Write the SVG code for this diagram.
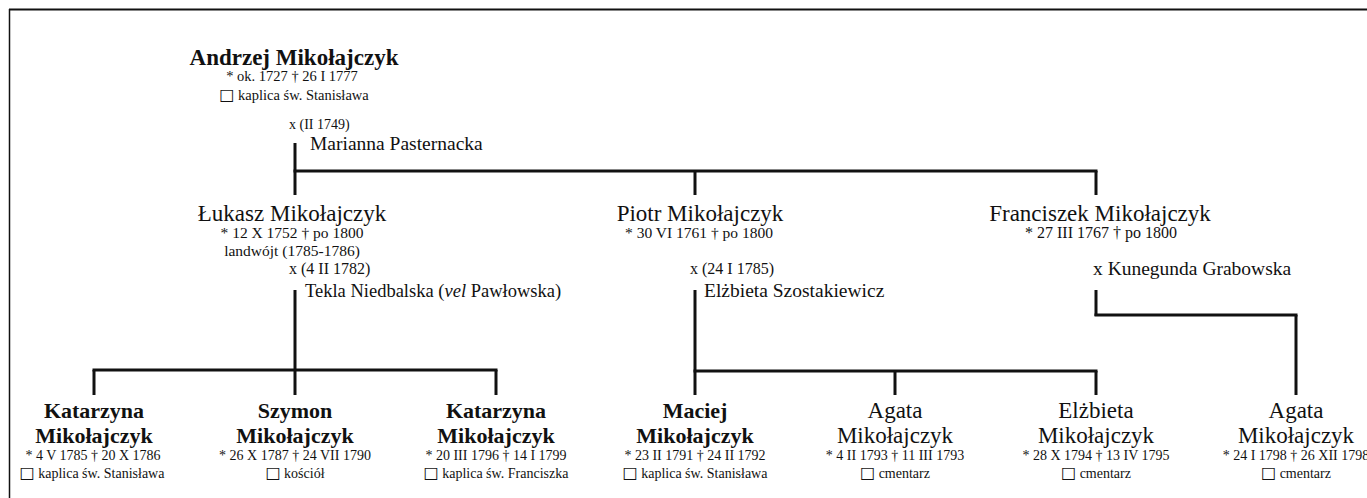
<svg xmlns="http://www.w3.org/2000/svg" width="1367" height="498" viewBox="0 0 1367 498">
<style>
text{font-family:"Liberation Serif","Times New Roman",serif;fill:#111}
.b{font-weight:bold;font-size:22px;text-anchor:middle}
.bt{font-weight:bold;font-size:23px;text-anchor:middle}
.n{font-size:23px;text-anchor:middle}
.s{font-size:14px;text-anchor:middle}
.s2{font-size:15.5px;text-anchor:middle}
.m{font-size:16px}
.sp{font-size:19.5px}
.bx{font-family:"DejaVu Sans",sans-serif;font-size:16px}
.c line{stroke:#111;stroke-width:3}
</style>
<rect x="0" y="0" width="1367" height="498" fill="#fff"/>
<g id="frame">
<line x1="9" y1="9.5" x2="1367" y2="9.5" stroke="#111" stroke-width="2"/>
<line x1="9.5" y1="9" x2="9.5" y2="498" stroke="#111" stroke-width="1.5"/>
</g>
<g class="c" id="connectors">
<line x1="295" y1="143" x2="295" y2="195"/>
<line x1="293.5" y1="171" x2="1097.5" y2="171"/>
<line x1="695" y1="171" x2="695" y2="195"/>
<line x1="1096" y1="171" x2="1096" y2="195"/>
<line x1="295" y1="290" x2="295" y2="395"/>
<line x1="92.5" y1="370" x2="497.5" y2="370"/>
<line x1="94" y1="370" x2="94" y2="395"/>
<line x1="496" y1="370" x2="496" y2="395"/>
<line x1="695" y1="290" x2="695" y2="395"/>
<line x1="693.5" y1="371" x2="1097.5" y2="371"/>
<line x1="895" y1="371" x2="895" y2="395"/>
<line x1="1096" y1="371" x2="1096" y2="395"/>
<line x1="1096" y1="290" x2="1096" y2="316"/>
<line x1="1094.5" y1="315" x2="1297.5" y2="315"/>
<line x1="1296" y1="315" x2="1296" y2="395"/>
</g>
<g id="andrzej">
<text class="bt" x="294" y="65">Andrzej Mikołajczyk</text>
<text class="s" x="292" y="81" style="font-size:14.5px">* ok. 1727 † 26 I 1777</text>
<text class="s" x="294" y="100" style="font-size:14.5px"><tspan class="bx">□</tspan> kaplica św. Stanisława</text>
<text class="m" x="289" y="129" style="font-size:14px">x (II 1749)</text>
<text class="sp" x="310" y="150">Marianna Pasternacka</text>
</g>
<g id="lukasz">
<text class="n" x="292" y="221">Łukasz Mikołajczyk</text>
<text class="s2" x="292" y="238">* 12 X 1752 † po 1800</text>
<text class="s2" x="292" y="256">landwójt (1785-1786)</text>
<text class="m" x="289" y="274">x (4 II 1782)</text>
<text class="sp" x="305" y="297" style="font-size:18.5px">Tekla Niedbalska (<tspan font-style="italic">vel</tspan> Pawłowska)</text>
</g>
<g id="piotr">
<text class="n" x="700" y="221">Piotr Mikołajczyk</text>
<text class="s2" x="699" y="238">* 30 VI 1761 † po 1800</text>
<text class="m" x="690" y="274">x (24 I 1785)</text>
<text class="sp" x="704" y="297">Elżbieta Szostakiewicz</text>
</g>
<g id="franciszek">
<text class="n" x="1100" y="221">Franciszek Mikołajczyk</text>
<text class="s2" x="1101" y="238" style="font-size:16px">*  27 III 1767 † po 1800</text>
<text class="sp" x="1093" y="275">x Kunegunda Grabowska</text>
</g>
<g id="katarzyna1">
<text class="b" x="94" y="418">Katarzyna</text>
<text class="b" x="94" y="443">Mikołajczyk</text>
<text class="s" x="93" y="460">* 4 V 1785 † 20 X 1786</text>
<text class="s" x="92" y="478"><tspan class="bx">□</tspan> kaplica św. Stanisława</text>
</g>
<g id="szymon">
<text class="b" x="295" y="418">Szymon</text>
<text class="b" x="295" y="443">Mikołajczyk</text>
<text class="s" x="295" y="460">* 26 X 1787 † 24 VII 1790</text>
<text class="s" x="295" y="478"><tspan class="bx">□</tspan> kościół</text>
</g>
<g id="katarzyna2">
<text class="b" x="496" y="418">Katarzyna</text>
<text class="b" x="496" y="443">Mikołajczyk</text>
<text class="s" x="496" y="460">* 20 III 1796 † 14 I 1799</text>
<text class="s" x="496" y="478"><tspan class="bx">□</tspan> kaplica św. Franciszka</text>
</g>
<g id="maciej">
<text class="b" x="695" y="418">Maciej</text>
<text class="b" x="695" y="443">Mikołajczyk</text>
<text class="s" x="695" y="460">* 23 II 1791 † 24 II 1792</text>
<text class="s" x="695" y="478"><tspan class="bx">□</tspan> kaplica św. Stanisława</text>
</g>
<g id="agata1">
<text class="n" x="895" y="418">Agata</text>
<text class="n" x="895" y="443">Mikołajczyk</text>
<text class="s" x="895" y="460">* 4 II 1793 † 11 III 1793</text>
<text class="s" x="895" y="478"><tspan class="bx">□</tspan> cmentarz</text>
</g>
<g id="elzbieta">
<text class="n" x="1096" y="418">Elżbieta</text>
<text class="n" x="1096" y="443">Mikołajczyk</text>
<text class="s" x="1096" y="460">* 28 X 1794 † 13 IV 1795</text>
<text class="s" x="1096" y="478"><tspan class="bx">□</tspan> cmentarz</text>
</g>
<g id="agata2">
<text class="n" x="1296" y="418">Agata</text>
<text class="n" x="1296" y="443">Mikołajczyk</text>
<text class="s" x="1296" y="460">* 24 I 1798 † 26 XII 1798</text>
<text class="s" x="1296" y="478"><tspan class="bx">□</tspan> cmentarz</text>
</g>
</svg>
